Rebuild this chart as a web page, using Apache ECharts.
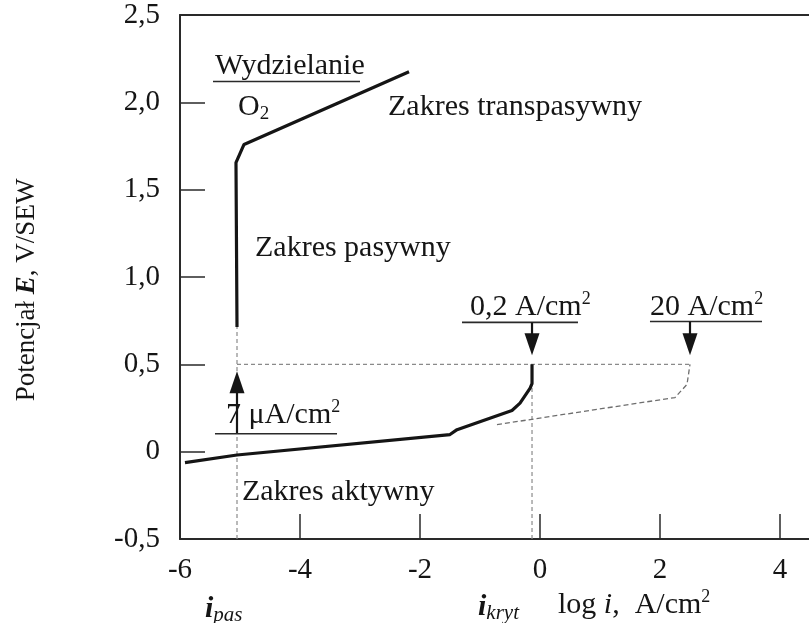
<!DOCTYPE html>
<html>
<head>
<meta charset="utf-8">
<script src="https://cdn.jsdelivr.net/npm/echarts@6/dist/echarts.min.js"></script>
<style>
  html, body { margin: 0; padding: 0; background: #fff; }
  #chart { width: 809px; height: 623px; }
</style>
</head>
<body>
<div id="chart"></div>
<script>
// Polarisation curve of a passivating metal: potential E (V/SEW) vs log i (A/cm2)

// Axis ranges and ticks
const logIRange = [-6, 4.5];
const logIStep = 2;
const potentialRange = [-0.5, 2.5];
const potentialStep = 0.5;

// Active dissolution branch, ending at the critical current
const activeCurve = [
  [-5.917, -0.063], [-5.05, -0.019], [-1.5, 0.098], [-1.383, 0.126],
  [-0.467, 0.236], [-0.333, 0.278], [-0.167, 0.362], [-0.133, 0.39], [-0.133, 0.5]
];
// Passive plateau and transpassive branch (oxygen evolution)
const passiveCurve = [
  [-5.05, 0.714], [-5.067, 1.655], [-4.933, 1.759], [-2.183, 2.175]
];
// Second (dashed) active branch reaching 20 A/cm2
const secondCurve = [
  [-0.717, 0.155], [2.25, 0.31], [2.45, 0.385], [2.5, 0.5]
];

// Characteristic values
const logIPas = -5.05;     // 7 uA/cm2
const logIKryt = -0.133;   // 0,2 A/cm2
const logILimit = 2.5;     // 20 A/cm2
const passivationE = 0.5;

// Arrows: [log i, E start, E tip]
const arrowMarks = [
  [logIPas, 0.103, 0.46],
  [logIKryt, 0.74, 0.552],
  [logILimit, 0.745, 0.552]
];

const FONT = '"Liberation Serif", "Times New Roman", "DejaVu Serif", serif';
const INK = '#151515';
const GUIDE = '#8a8a8a';
const AXIS = '#2a2a2a';

const guideStyle = { color: GUIDE, width: 1.2, type: [4, 3] };

const option = {
  animation: false,
  backgroundColor: '#fff',
  grid: { left: 180, top: 15, width: 630, height: 524, containLabel: false, outerBoundsMode: 'none' },
  xAxis: [
    {
      type: 'value', min: logIRange[0], max: logIRange[1], interval: logIStep,
      axisLine: { show: true, onZero: false, lineStyle: { color: AXIS, width: 2 } },
      axisTick: { show: true, inside: true, length: 25, lineStyle: { color: AXIS, width: 1.5 } },
      axisLabel: {
        showMaxLabel: false, margin: 17, fontFamily: FONT, fontSize: 29, color: INK,
        formatter: v => String(v)
      },
      splitLine: { show: false }
    },
    {
      type: 'value', position: 'top', min: logIRange[0], max: logIRange[1],
      axisLine: { show: true, onZero: false, lineStyle: { color: AXIS, width: 2 } },
      axisTick: { show: false }, axisLabel: { show: false }, splitLine: { show: false }
    }
  ],
  yAxis: {
    type: 'value', min: potentialRange[0], max: potentialRange[1], interval: potentialStep,
    axisLine: { show: true, onZero: false, lineStyle: { color: AXIS, width: 2 } },
    axisTick: { show: true, inside: true, length: 25, lineStyle: { color: AXIS, width: 1.5 } },
    axisLabel: {
      margin: 20, fontFamily: FONT, fontSize: 29, color: INK,
      formatter: v => (v === 0 ? '0' : v.toFixed(1).replace('.', ','))
    },
    splitLine: { show: false }
  },
  series: [
    // dotted guides
    {
      type: 'line', symbol: 'none', lineStyle: guideStyle, z: 2,
      data: [[logIPas, potentialRange[0]], [logIPas, passiveCurve[0][1]]]
    },
    {
      type: 'line', symbol: 'none', lineStyle: guideStyle, z: 2,
      data: [[logIKryt, potentialRange[0]], [logIKryt, passivationE]]
    },
    {
      type: 'line', symbol: 'none', lineStyle: guideStyle, z: 2,
      data: [[logIPas, passivationE], [logILimit, passivationE]]
    },
    {
      type: 'line', symbol: 'none', lineStyle: { color: '#6e6e6e', width: 1.3, type: [5, 3] }, z: 2,
      data: secondCurve
    },
    // main curve
    {
      type: 'line', symbol: 'none', lineStyle: { color: INK, width: 3.2 }, z: 5,
      data: activeCurve
    },
    {
      type: 'line', symbol: 'none', lineStyle: { color: INK, width: 3.2 }, z: 5,
      data: passiveCurve
    },
    // arrows
    {
      type: 'custom', z: 6, data: arrowMarks,
      encode: { x: 0, y: [1, 2] },
      renderItem: (params, api) => {
        const p0 = api.coord([api.value(0), api.value(1)]);
        const p1 = api.coord([api.value(0), api.value(2)]);
        const dir = p1[1] > p0[1] ? 1 : -1;
        const headLen = 22, headHalf = 7.5;
        return {
          type: 'group',
          children: [
            {
              type: 'line',
              shape: { x1: p0[0], y1: p0[1], x2: p1[0], y2: p1[1] - dir * (headLen - 2) },
              style: { stroke: INK, lineWidth: 2.2 }
            },
            {
              type: 'polygon',
              shape: { points: [[p1[0], p1[1]], [p1[0] - headHalf, p1[1] - dir * headLen], [p1[0] + headHalf, p1[1] - dir * headLen]] },
              style: { fill: INK }
            }
          ]
        };
      }
    }
  ]
};

const chart = echarts.init(document.getElementById('chart'), null, { renderer: 'canvas' });
chart.setOption(option);

// Text annotations anchored in data coordinates (left edge, vertical middle)
const richStyles = {
  t: { fontFamily: FONT, fontSize: 30, lineHeight: 34, fill: INK, color: INK },
  sup: { fontFamily: FONT, fontSize: 18, lineHeight: 20, verticalAlign: 'top', fill: INK, color: INK },
  sub: { fontFamily: FONT, fontSize: 19, lineHeight: 20, verticalAlign: 'bottom', fill: INK, color: INK },
  bi: { fontFamily: FONT, fontSize: 30, lineHeight: 34, fontStyle: 'italic', fontWeight: 'bold', fill: INK, color: INK },
  it: { fontFamily: FONT, fontSize: 30, lineHeight: 34, fontStyle: 'italic', fill: INK, color: INK },
  isub: { fontFamily: FONT, fontSize: 21, lineHeight: 20, fontStyle: 'italic', verticalAlign: 'bottom', fill: INK, color: INK },
  n: { fontFamily: FONT, fontSize: 27, lineHeight: 30, fill: INK, color: INK },
  e: { fontFamily: FONT, fontSize: 27, lineHeight: 30, fontStyle: 'italic', fontWeight: 'bold', fill: INK, color: INK }
};

const notes = [
  { text: '{t|Wydzielanie}', at: [-5.417, 2.206] },
  { text: '{t|O}{sub|2}', at: [-5.033, 1.975] },
  { text: '{t|Zakres transpasywny}', at: [-2.533, 1.975] },
  { text: '{t|Zakres pasywny}', at: [-4.75, 1.168] },
  { text: '{t|0,2 A/cm}{sup|2}', at: [-1.167, 0.828] },
  { text: '{t|20 A/cm}{sup|2}', at: [1.833, 0.828] },
  { text: '{t|7 μA/cm}{sup|2}', at: [-5.233, 0.207] },
  { text: '{t|Zakres aktywny}', at: [-4.967, -0.234] }
];
// underlines: [log i from, log i to, E]
const underlines = [
  [-5.45, -3.0, 2.119],
  [-1.3, 0.633, 0.74],
  [1.833, 3.7, 0.745],
  [-5.417, -3.383, 0.103]
];

const toPx = (x, y) => chart.convertToPixel({ xAxisIndex: 0, yAxisIndex: 0 }, [x, y]);
const textEl = (text, x, y, extra) => Object.assign({
  type: 'text', x, y, silent: true,
  style: {
    text, rich: richStyles, fill: INK,
    textAlign: 'left', textVerticalAlign: 'middle', align: 'left', verticalAlign: 'middle'
  }
}, extra || {});

const graphics = [];
notes.forEach(n => {
  const p = toPx(n.at[0], n.at[1]);
  graphics.push(textEl(n.text, p[0], p[1]));
});
underlines.forEach(u => {
  const a = toPx(u[0], u[2]);
  const b = toPx(u[1], u[2]);
  graphics.push({
    type: 'line', silent: true,
    shape: { x1: a[0], y1: a[1], x2: b[0], y2: b[1] },
    style: { stroke: AXIS, lineWidth: 1.6 }
  });
});

// names under the axis
const bottomY = toPx(0, potentialRange[0])[1];
graphics.push(textEl('{bi|i}{isub|pas}', toPx(-5.583, 0)[0], bottomY + 70));
graphics.push(textEl('{bi|i}{isub|kryt}', toPx(-1.033, 0)[0], bottomY + 68));
graphics.push(textEl('{t|log }{it|i}{t|,  A/cm}{sup|2}', toPx(0.3, 0)[0], bottomY + 66));

// vertical axis title
graphics.push(textEl('{n|Potencjał }{e|E}{n|, V/SEW}', 27, 290, {
  rotation: Math.PI / 2,
  style: {
    text: '{n|Potencjał }{e|E}{n|, V/SEW}', rich: richStyles, fill: INK,
    textAlign: 'center', textVerticalAlign: 'middle', align: 'center', verticalAlign: 'middle'
  }
}));

chart.setOption({ graphic: graphics });
</script>
</body>
</html>
